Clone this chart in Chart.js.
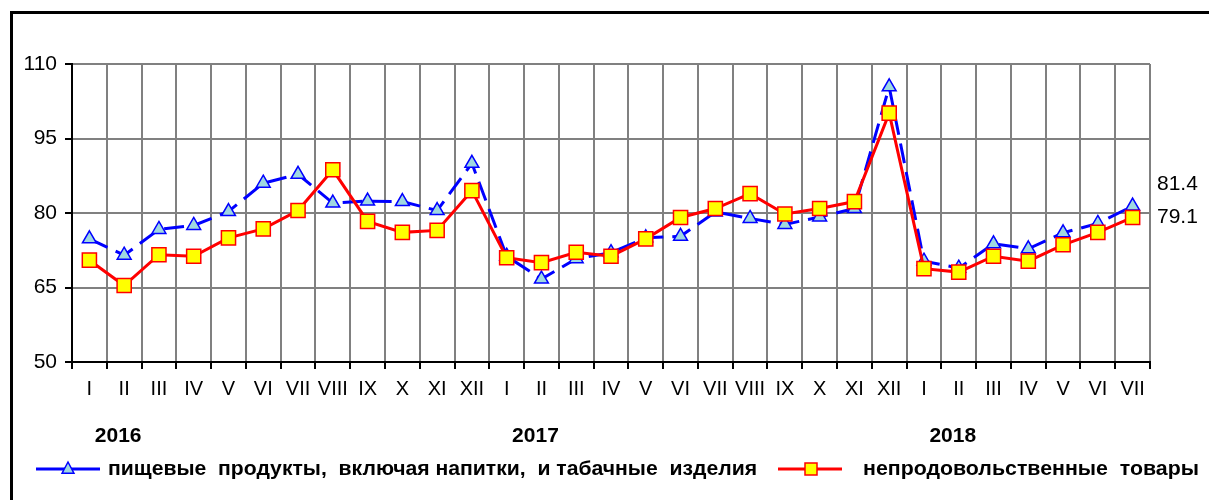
<!DOCTYPE html>
<html>
<head>
<meta charset="utf-8">
<script src="https://cdn.jsdelivr.net/npm/chart.js@4.4.1/dist/chart.umd.min.js"></script>
<style>
  body { margin: 0; background: #fff; }
  #wrap { width: 1209px; height: 500px; }
</style>
</head>
<body>
<div id="wrap"><canvas id="chart" width="1209" height="500"></canvas></div>
<script>
// месяцы по оси X
const months = [
  "I", "II", "III", "IV", "V", "VI", "VII", "VIII", "IX", "X", "XI", "XII",
  "I", "II", "III", "IV", "V", "VI", "VII", "VIII", "IX", "X", "XI", "XII",
  "I", "II", "III", "IV", "V", "VI", "VII",
];
const years = ["2016", "2017", "2018"];
const yearStart = [0, 12, 24];

const foodLabel = "пищевые  продукты,  включая напитки,  и табачные  изделия";
const nonFoodLabel = "непродовольственные  товары";

const food = [
  74.8, 71.5, 76.7, 77.5, 80.3, 86.0, 87.8, 82.0, 82.4, 82.3, 80.5, 90.0,
  71.3, 66.7, 70.8, 72.0, 75.0, 75.3, 80.2, 78.9, 77.7, 79.2, 80.9, 105.4,
  70.3, 68.9, 73.8, 72.8, 76.0, 77.9, 81.4,
];
const nonFood = [
  70.5, 65.4, 71.6, 71.3, 75.0, 76.8, 80.5, 88.7, 78.3, 76.1, 76.5, 84.5,
  71.0, 70.0, 72.1, 71.3, 74.8, 79.1, 80.9, 83.9, 79.8, 80.9, 82.3, 100.1,
  68.8, 68.1, 71.3, 70.3, 73.6, 76.1, 79.1,
];

const yTicks = [50, 65, 80, 95, 110];

const FONT = "'Liberation Sans', Arial, sans-serif";
const BLUE = "#0000ff";
const RED = "#ff0000";

// текст, растянутый до нужной ширины (как в Excel)
function fitText(ctx, text, x, y, width) {
  const w = ctx.measureText(text).width;
  ctx.save();
  ctx.translate(x, y);
  ctx.scale(width / w, 1);
  ctx.fillText(text, 0, 0);
  ctx.restore();
}

// рамка, подписи годов, последние значения и легенда
const extras = {
  id: "extras",
  beforeDraw(chart) {
    const ctx = chart.ctx;
    ctx.save();
    ctx.fillStyle = "#fff";
    ctx.fillRect(0, 0, chart.width, chart.height);
    ctx.fillStyle = "#000";
    ctx.fillRect(10, 11, 3, chart.height - 11);
    ctx.fillRect(10, 11, chart.width - 10, 3);
    ctx.restore();
  },
  afterDraw(chart) {
    const ctx = chart.ctx;
    const x = chart.scales.x;
    ctx.save();
    // годы
    ctx.font = "bold 21px " + FONT;
    ctx.fillStyle = "#000";
    ctx.textAlign = "center";
    ctx.textBaseline = "middle";
    years.forEach((y, i) => {
      ctx.fillText(y, x.getPixelForValue(yearStart[i] + 1) - 6, 436);
    });

    // последние значения
    ctx.font = "21px " + FONT;
    ctx.textAlign = "left";
    const pf = chart.getDatasetMeta(0).data[food.length - 1];
    const pn = chart.getDatasetMeta(1).data[nonFood.length - 1];
    ctx.fillText(String(food[food.length - 1]), chart.chartArea.right + 7, pf.y - 22);
    ctx.fillText(String(nonFood[nonFood.length - 1]), chart.chartArea.right + 7, pn.y);

    // легенда
    const ly = 469;
    ctx.lineWidth = 3;
    ctx.strokeStyle = BLUE;
    ctx.beginPath();
    ctx.moveTo(36, ly);
    ctx.lineTo(100, ly);
    ctx.stroke();
    drawTriangle(ctx, 68, ly, 7);
    ctx.strokeStyle = RED;
    ctx.beginPath();
    ctx.moveTo(778, ly);
    ctx.lineTo(842, ly);
    ctx.stroke();
    ctx.fillStyle = "#ffff00";
    ctx.lineWidth = 1.5;
    ctx.fillRect(805, ly - 6, 12, 12);
    ctx.strokeRect(805, ly - 6, 12, 12);

    ctx.fillStyle = "#000";
    ctx.font = "bold 20px " + FONT;
    fitText(ctx, foodLabel, 108, ly, 649);
    fitText(ctx, nonFoodLabel, 863, ly, 336);
    ctx.restore();
  },
};

function drawTriangle(ctx, cx, cy, r) {
  ctx.save();
  ctx.fillStyle = "#9fd8e0";
  ctx.strokeStyle = BLUE;
  ctx.lineWidth = 1.5;
  ctx.beginPath();
  ctx.moveTo(cx, cy - r);
  ctx.lineTo(cx + r * 0.85, cy + r * 0.6);
  ctx.lineTo(cx - r * 0.85, cy + r * 0.6);
  ctx.closePath();
  ctx.fill();
  ctx.stroke();
  ctx.restore();
}

new Chart(document.getElementById("chart"), {
  type: "line",
  data: {
    labels: months,
    datasets: [
      {
        label: foodLabel,
        data: food,
        borderColor: BLUE,
        borderWidth: 3,
        borderDash: [20, 9],
        pointStyle: "triangle",
        pointRadius: 8,
        pointBackgroundColor: "#9fd8e0",
        pointBorderColor: BLUE,
        pointBorderWidth: 1.5,
        tension: 0,
        order: 2,
      },
      {
        label: nonFoodLabel,
        data: nonFood,
        borderColor: RED,
        borderWidth: 3,
        pointStyle: "rect",
        pointRadius: 10,
        pointBackgroundColor: "#ffff00",
        pointBorderColor: RED,
        pointBorderWidth: 1.5,
        tension: 0,
        order: 1,
      },
    ],
  },
  options: {
    responsive: false,
    animation: false,
    layout: { padding: { left: 0, top: 64, right: 59, bottom: 0 } },
    plugins: {
      legend: { display: false },
      tooltip: { enabled: false },
    },
    scales: {
      x: {
        offset: true,
        afterFit: (s) => { s.height = 138; },
        border: { color: "#000", width: 2 },
        grid: {
          offset: true,
          color: "#808080",
          lineWidth: 2,
          tickColor: "#000",
          tickLength: 7,
        },
        ticks: {
          autoSkip: false,
          maxRotation: 0,
          padding: 8,
          color: "#000",
          font: { family: FONT, size: 20 },
        },
      },
      y: {
        min: 50,
        max: 110,
        afterFit: (s) => { s.width = 72; },
        afterBuildTicks: (s) => { s.ticks = yTicks.map((v) => ({ value: v })); },
        border: { color: "#000", width: 2 },
        grid: {
          color: "#808080",
          lineWidth: 2,
          tickColor: "#000",
          tickLength: 7,
        },
        ticks: {
          padding: 8,
          color: "#000",
          font: { family: FONT, size: 21 },
        },
      },
    },
  },
  plugins: [extras],
});
</script>
</body>
</html>
